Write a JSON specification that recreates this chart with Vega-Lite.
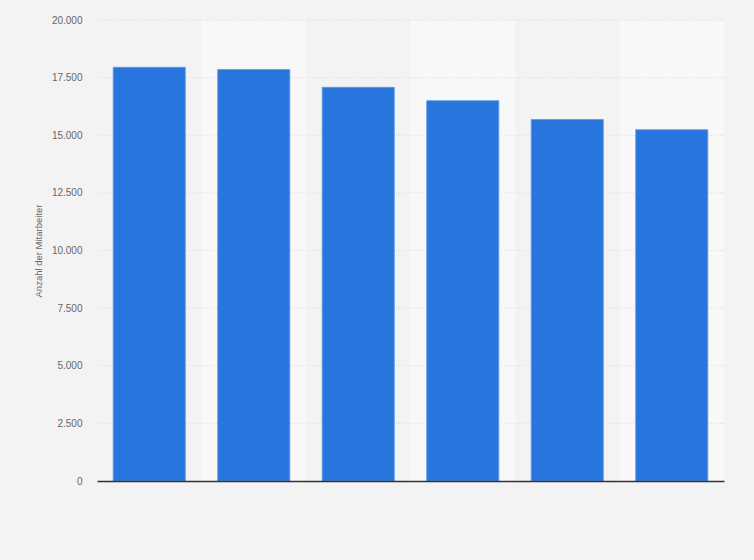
{
  "$schema": "https://vega.github.io/schema/vega-lite/v6.json",
  "width": 627,
  "height": 461,
  "autosize": {"type": "none"},
  "padding": {"left": 97, "top": 20, "right": 30, "bottom": 79},
  "background": "#f3f3f3",
  "datasets": {
    "raster": [
      {"wert": 2500}, {"wert": 5000}, {"wert": 7500}, {"wert": 10000},
      {"wert": 12500}, {"wert": 15000}, {"wert": 17500}, {"wert": 20000}
    ],
    "balken": [
      {"kategorie": "1", "mitarbeiter": 17950, "hell": false},
      {"kategorie": "2", "mitarbeiter": 17850, "hell": true},
      {"kategorie": "3", "mitarbeiter": 17080, "hell": false},
      {"kategorie": "4", "mitarbeiter": 16500, "hell": true},
      {"kategorie": "5", "mitarbeiter": 15680, "hell": false},
      {"kategorie": "6", "mitarbeiter": 15240, "hell": true}
    ]
  },
  "layer": [
    {
      "data": {"name": "balken"},
      "transform": [{"filter": "datum.hell"}],
      "mark": {"type": "bar", "color": "#f8f8f8", "width": {"band": 1}},
      "encoding": {
        "x": {
          "field": "kategorie",
          "type": "nominal",
          "scale": {"paddingInner": 0, "paddingOuter": 0},
          "axis": {
            "title": null,
            "labels": false,
            "ticks": false,
            "domainColor": "#333333",
            "domainWidth": 1.5,
            "zindex": 1
          }
        },
        "y": {"datum": 20000, "type": "quantitative"}
      }
    },
    {
      "data": {"name": "raster"},
      "mark": {"type": "rule", "color": "#d9d9d9", "strokeDash": [1, 2], "strokeWidth": 1},
      "encoding": {
        "y": {"field": "wert", "type": "quantitative"}
      }
    },
    {
      "data": {"name": "balken"},
      "mark": {
        "type": "bar",
        "color": "#2876dd",
        "stroke": "#5b98e8",
        "strokeWidth": 0.8,
        "width": {"band": 0.69}
      },
      "encoding": {
        "x": {
          "field": "kategorie",
          "type": "nominal",
          "scale": {"paddingInner": 0, "paddingOuter": 0},
          "axis": {
            "title": null,
            "labels": false,
            "ticks": false,
            "domainColor": "#333333",
            "domainWidth": 1.5,
            "zindex": 1
          }
        },
        "y": {
          "field": "mitarbeiter",
          "type": "quantitative",
          "scale": {"domain": [0, 20000], "nice": false},
          "axis": {
            "title": "Anzahl der Mitarbeiter",
            "values": [0, 2500, 5000, 7500, 10000, 12500, 15000, 17500, 20000],
            "format": ",d",
            "domain": false,
            "ticks": false,
            "grid": false,
            "labelPadding": 15,
            "titlePadding": 8
          }
        }
      }
    }
  ],
  "config": {
    "locale": {
      "number": {"decimal": ",", "thousands": ".", "grouping": [3], "currency": ["", " €"]}
    },
    "view": {"stroke": null},
    "axis": {
      "labelFont": "Liberation Sans",
      "labelFontSize": 10,
      "labelColor": "#666666",
      "titleFont": "Liberation Sans",
      "titleFontSize": 9.5,
      "titleFontWeight": "normal",
      "titleColor": "#666666"
    }
  }
}
